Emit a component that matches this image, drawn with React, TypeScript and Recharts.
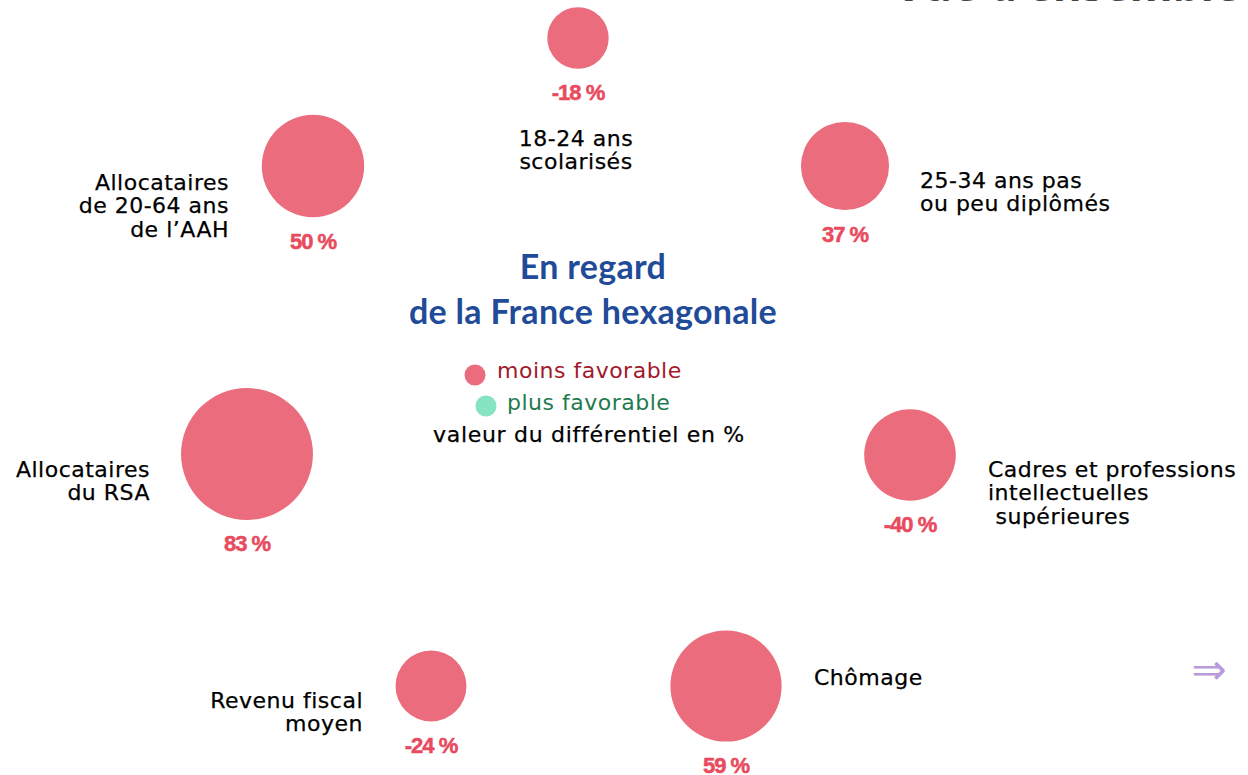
import React from "react";
import { ScatterChart, Scatter, XAxis, YAxis, ZAxis } from "recharts";

// ---- data ----
const categories: string[][] = [
  ["18-24 ans", "scolarisés"],
  ["25-34 ans pas", "ou peu diplômés"],
  ["Cadres et professions", "intellectuelles", " supérieures"],
  ["Chômage"],
  ["Revenu fiscal", "moyen"],
  ["Allocataires", "du RSA"],
  ["Allocataires", "de 20-64 ans", "de l\u2019AAH"],
];
const differentials: number[] = [-18, 37, -40, 59, -24, 83, 50];
const favorability: string[] = ["moins", "moins", "moins", "moins", "moins", "moins", "moins"];
// layout coordinates of each bubble on the plane
const posX: number[] = [578, 845, 910, 726, 431, 247, 313];
const posY: number[] = [38, 166, 455, 686, 686, 454, 166];

const legendItems = [
  { key: "moins", label: "moins favorable" },
  { key: "plus", label: "plus favorable" },
];

// ---- styling / layout ----
const W = 1248;
const H = 775;
const COLORS: Record<string, string> = { moins: "#eb6c7c", plus: "#86e4c3" };
const LEGEND_TEXT: Record<string, string> = { moins: "#a3182c", plus: "#1f7a4f" };
const VALUE_COLOR = "#e84a5e";
const LABEL_FONT = "'DejaVu Sans', Verdana, sans-serif";

// label placement relative to bubble centre
const labelLayout = [
  { dx: -2, dy: 108, anchor: "middle" },
  { dx: 75, dy: 22, anchor: "start" },
  { dx: 78, dy: 22, anchor: "start" },
  { dx: 88, dy: -1, anchor: "start" },
  { dx: -68, dy: 22, anchor: "end" },
  { dx: -97, dy: 23, anchor: "end" },
  { dx: -84, dy: 24, anchor: "end" },
];

const data = categories.map((c, i) => ({
  name: c.join(" "),
  lines: c,
  x: posX[i],
  y: posY[i],
  value: differentials[i],
  size: Math.abs(differentials[i]),
  fav: favorability[i],
  idx: i,
}));

const BubbleShape = (props: any) => {
  const { cx, cy, width, payload } = props;
  const r = width / 2;
  const lay = labelLayout[payload.idx];
  return (
    <g>
      <circle cx={cx} cy={cy} r={r} fill={COLORS[payload.fav]} />
      <text
        x={cx}
        y={cy + r + 31.5}
        textAnchor="middle"
        fill={VALUE_COLOR}
        stroke={VALUE_COLOR}
        strokeWidth={0.5}
        fontFamily="'Liberation Sans', Arial, sans-serif"
        fontWeight="bold"
        fontSize={22}
        letterSpacing={-1}
      >
        {`${payload.value} %`}
      </text>
      <text
        x={cx + lay.dx}
        y={cy + lay.dy}
        textAnchor={lay.anchor}
        fill="#000"
        stroke="#000"
        strokeWidth={0.25}
        fontFamily={LABEL_FONT}
        fontSize={22}
        letterSpacing={0.5}
        style={{ whiteSpace: "pre" }}
      >
        {payload.lines.map((l: string, k: number) => (
          <tspan key={k} x={cx + lay.dx} dy={k === 0 ? 0 : 23.4}>
            {l}
          </tspan>
        ))}
      </text>
    </g>
  );
};

export default function App() {
  const moins = data.filter((d) => d.fav === "moins");
  const plus = data.filter((d) => d.fav === "plus");
  return (
    <div style={{ position: "absolute", left: 0, top: 0, width: W, height: H, background: "#fff" }}>
      <ScatterChart width={W} height={H} margin={{ top: 0, right: 0, bottom: 0, left: 0 }}>
        <XAxis type="number" dataKey="x" domain={[0, W]} hide />
        <YAxis type="number" dataKey="y" domain={[0, H]} reversed hide />
        <ZAxis type="number" dataKey="size" domain={[0, 100]} range={[0, Math.PI * 7.24 * 7.24 * 100]} />
        <Scatter name="moins favorable" data={moins} fill={COLORS.moins} shape={BubbleShape} isAnimationActive={false} />
        <Scatter name="plus favorable" data={plus} fill={COLORS.plus} shape={BubbleShape} isAnimationActive={false} />
      </ScatterChart>
      <svg width={W} height={H} style={{ position: "absolute", left: 0, top: 0, pointerEvents: "none" }}>
        <text x={1240} y={1} textAnchor="end" fill="#444" fontFamily="'Open Sans', sans-serif" fontWeight="bold" fontSize={44}>
          Vue d’ensemble
        </text>
        <text x={593} y={279} textAnchor="middle" fill="#1f4b98" fontFamily="Lato, 'Open Sans', sans-serif" fontWeight="bold" fontSize={34} letterSpacing={0.3}>
          En regard
        </text>
        <text x={593} y={324} textAnchor="middle" fill="#1f4b98" fontFamily="Lato, 'Open Sans', sans-serif" fontWeight="bold" fontSize={34} letterSpacing={0.3}>
          de la France hexagonale
        </text>
        {legendItems.map((it, i) => (
          <g key={it.key}>
            <circle cx={475 + i * 11} cy={375 + i * 31} r={10.5} fill={COLORS[it.key]} />
            <text x={497 + i * 10} y={378 + i * 32} fill={LEGEND_TEXT[it.key]} fontFamily={LABEL_FONT} fontSize={22} letterSpacing={0.5}>
              {it.label}
            </text>
          </g>
        ))}
        <text x={433} y={442} fill="#000" stroke="#000" strokeWidth={0.25} fontFamily={LABEL_FONT} fontSize={22} letterSpacing={0.7}>
          valeur du différentiel en %
        </text>
        <text x={1209} y={684} textAnchor="middle" fill="#b99bd9" fontFamily={LABEL_FONT} fontSize={42}>
          ⇒
        </text>
      </svg>
    </div>
  );
}
